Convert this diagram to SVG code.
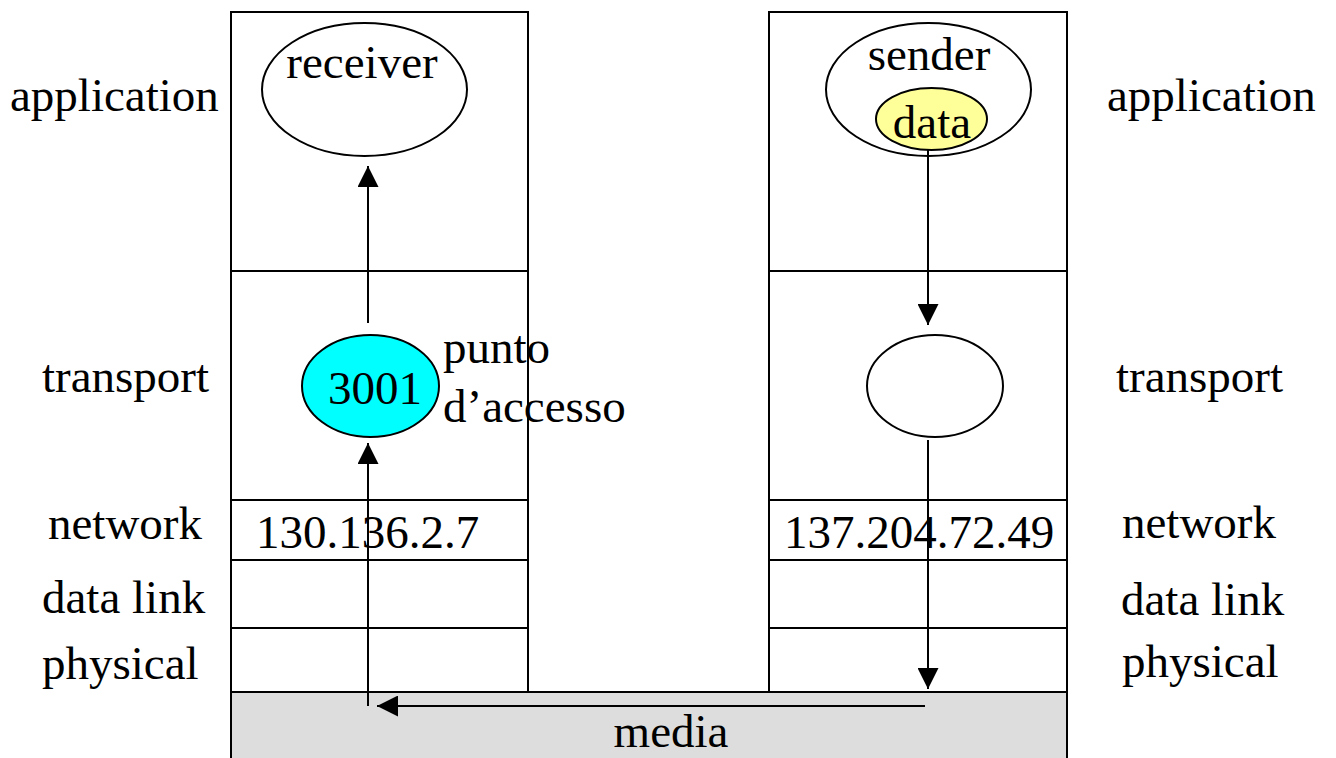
<svg xmlns="http://www.w3.org/2000/svg" width="1336" height="758" viewBox="0 0 1336 758">
<style>
text{font-family:"Liberation Serif","Times New Roman",serif;font-size:47px;fill:#000}
.box{fill:#fff;stroke:#000;stroke-width:2}
.ln{stroke:#000;stroke-width:2;fill:none}
.el{stroke:#000;stroke-width:2}
.mid{text-anchor:middle}
.cn{stroke:#000;stroke-width:2;marker-end:url(#ah2)}
</style>
<defs>
<marker id="ah2" viewBox="0 0 20 20" refX="20" refY="10" markerWidth="21" markerHeight="21" markerUnits="userSpaceOnUse" orient="auto">
<path d="M0,0 L20,10 L0,20 z" fill="#000"/>
</marker>
</defs>

<g id="media">
<rect x="231" y="692" width="836" height="70" fill="#dddddd" stroke="#000" stroke-width="2"/>
<text x="671" y="747" class="mid">media</text>
</g>

<g id="left-stack">
<rect class="box" x="231" y="12" width="297" height="680"/>
<line class="ln" x1="231" y1="271" x2="528" y2="271"/>
<line class="ln" x1="231" y1="500" x2="528" y2="500"/>
<line class="ln" x1="231" y1="560" x2="528" y2="560"/>
<line class="ln" x1="231" y1="628" x2="528" y2="628"/>
<text x="256" y="548">130.136.2.7</text>
</g>

<g id="right-stack">
<rect class="box" x="769" y="12" width="298" height="680"/>
<line class="ln" x1="769" y1="271" x2="1067" y2="271"/>
<line class="ln" x1="769" y1="500" x2="1067" y2="500"/>
<line class="ln" x1="769" y1="560" x2="1067" y2="560"/>
<line class="ln" x1="769" y1="628" x2="1067" y2="628"/>
<text x="784" y="548">137.204.72.49</text>
</g>

<g id="receiver">
<ellipse class="el" cx="364.5" cy="89.5" rx="102.5" ry="66.5" fill="#fff"/>
<text x="362" y="78" class="mid">receiver</text>
</g>

<g id="sender">
<ellipse class="el" cx="928.5" cy="89.5" rx="102.5" ry="66.5" fill="#fff"/>
<text x="929" y="70" class="mid">sender</text>
</g>

<g id="data">
<ellipse class="el" cx="931.5" cy="119" rx="55.5" ry="31" fill="#ffff99"/>
<text x="932" y="138" class="mid">data</text>
</g>

<g id="port-3001">
<ellipse class="el" cx="370.5" cy="386" rx="68.5" ry="51" fill="#00ffff"/>
<text x="375" y="404" class="mid">3001</text>
</g>

<g id="port-sender">
<ellipse class="el" cx="935" cy="386" rx="68" ry="51" fill="#fff"/>
</g>

<g id="connectors">
<line class="cn" x1="368" y1="323" x2="368" y2="166"/>
<line class="cn" x1="368" y1="706" x2="368" y2="443"/>
<line class="cn" x1="928" y1="150" x2="928" y2="325"/>
<line class="cn" x1="928" y1="440" x2="928" y2="689"/>
<line class="cn" x1="925" y1="706" x2="377" y2="706"/>
</g>

<g id="labels">
<text x="10" y="111">application</text>
<text x="42" y="392">transport</text>
<text x="48" y="539">network</text>
<text x="42" y="613">data link</text>
<text x="42" y="679">physical</text>
<text x="443" y="363">punto</text>
<text x="443" y="422">d’accesso</text>
<text x="1107" y="111">application</text>
<text x="1116" y="392">transport</text>
<text x="1122" y="538">network</text>
<text x="1121" y="615">data link</text>
<text x="1122" y="677">physical</text>
</g>
</svg>
